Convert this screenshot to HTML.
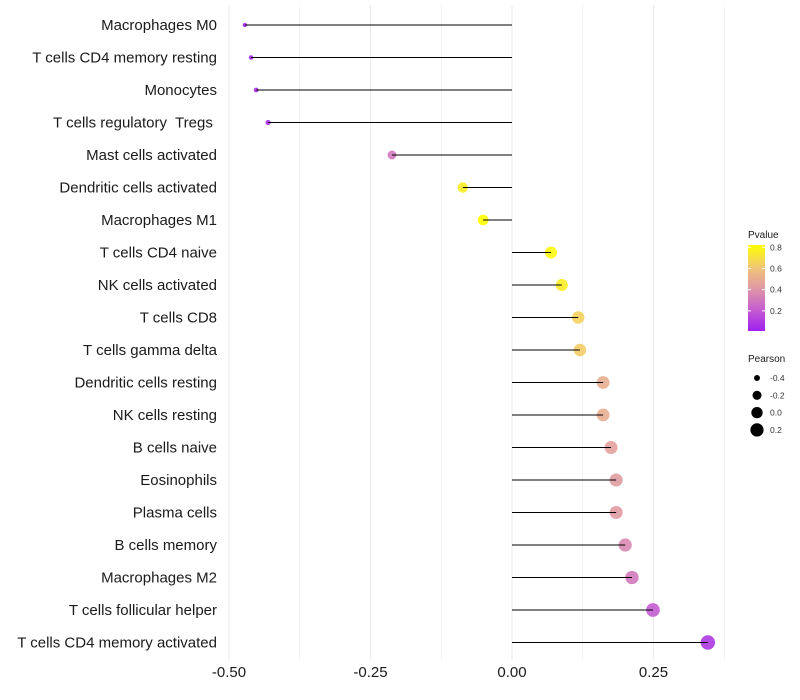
<!DOCTYPE html>
<html><head><meta charset="utf-8"><style>
body{margin:0;background:#fff;font-family:"Liberation Sans",sans-serif;}
svg{display:block}
text{white-space:pre}
</style></head><body>
<svg id="chart" width="800" height="700"></svg>
<script>
const categories=["Macrophages M0","T cells CD4 memory resting","Monocytes","T cells regulatory  Tregs ","Mast cells activated","Dendritic cells activated","Macrophages M1","T cells CD4 naive","NK cells activated","T cells CD8","T cells gamma delta","Dendritic cells resting","NK cells resting","B cells naive","Eosinophils","Plasma cells","B cells memory","Macrophages M2","T cells follicular helper","T cells CD4 memory activated"];
const pearson=[-0.472,-0.461,-0.452,-0.431,-0.212,-0.087,-0.051,0.069,0.088,0.117,0.120,0.161,0.161,0.175,0.184,0.184,0.200,0.212,0.249,0.346];
const pvalue=[0.02,0.03,0.04,0.06,0.3,0.75,0.85,0.8,0.75,0.65,0.63,0.5,0.5,0.45,0.42,0.42,0.35,0.3,0.2,0.08];
const xTicks=[-0.5,-0.25,0,0.25];
const xTickLabels=["-0.50","-0.25","0.00","0.25"];
const xMinor=[-0.375,-0.125,0.125,0.375];
const pTicks=[0.2,0.4,0.6,0.8];
const sizeTicks=[-0.4,-0.2,0.0,0.2];

const svg=document.getElementById('chart');
const NS="http://www.w3.org/2000/svg";
function el(t,a,p){const e=document.createElementNS(NS,t);for(const k in a)e.setAttribute(k,a[k]);(p||svg).appendChild(e);return e;}
const x=v=>512+v*566;
const y=i=>25+i*32.5;
const rad=v=>Math.sqrt(Math.max(1,32+58*v));
const stops=[[0,[160,32,240]],[0.2,[196,92,208]],[0.4,[222,150,168]],[0.6,[240,196,120]],[0.82,[255,255,0]]];
function col(p){p=Math.max(0,Math.min(0.82,p));for(let i=1;i<stops.length;i++){if(p<=stops[i][0]){const a=stops[i-1],b=stops[i],t=(p-a[0])/(b[0]-a[0]);return 'rgb('+a[1].map((c,j)=>Math.round(c+(b[1][j]-c)*t)).join(',')+')';}}return 'rgb(255,255,0)';}

[...xTicks,...xMinor].forEach(v=>{const g=el('line',{x1:x(v),x2:x(v),y1:5,y2:660,stroke:'#ebebeb','stroke-width':xTicks.includes(v)?1.1:0.6});

});
xTicks.forEach((v,i)=>{const t=el('text',{x:x(v),y:677,'text-anchor':'middle','font-size':15,fill:'#1a1a1a'});t.textContent=xTickLabels[i];

});
categories.forEach((c,i)=>{
 const t=el('text',{x:217,y:y(i)+5,'text-anchor':'end','font-size':15,fill:'#1a1a1a'});t.textContent=c;
 
 
 const d=el('circle',{cx:x(pearson[i]),cy:y(i),r:rad(pearson[i]),fill:col(pvalue[i]),'fill-opacity':0.9});
 
 
 const s=el('line',{x1:512,x2:x(pearson[i]),y1:y(i),y2:y(i),stroke:'#000','stroke-width':1});
 
 
});
const lt=el('text',{x:748,y:238,'font-size':10,fill:'#1a1a1a'});lt.textContent='Pvalue';


const defs=el('defs',{});const lg=el('linearGradient',{id:'pg',x1:0,y1:1,x2:0,y2:0},defs);
stops.forEach(s=>el('stop',{offset:s[0]/0.82,'stop-color':col(s[0])},lg));
const bar=el('rect',{x:748,y:245,width:17,height:86,fill:'url(#pg)'});


const py=p=>331-(p-0.01)*106;
pTicks.forEach(p=>{el('line',{x1:748,x2:751,y1:py(p),y2:py(p),stroke:'#fff'});el('line',{x1:762,x2:765,y1:py(p),y2:py(p),stroke:'#fff'});
 const t=el('text',{x:770,y:py(p)+3,'font-size':8.5,fill:'#333'});t.textContent=p.toFixed(1);
 
 });
const st=el('text',{x:748,y:362,'font-size':10,fill:'#1a1a1a'});st.textContent='Pearson';


sizeTicks.forEach((v,i)=>{const cy=378+i*17.3;
 const c=el('circle',{cx:757,cy:cy,r:rad(v),fill:'#000'});
 
 
 const t=el('text',{x:770,y:cy+3,'font-size':8.5,fill:'#333'});t.textContent=v.toFixed(1);
 
 });
</script>
</body></html>
